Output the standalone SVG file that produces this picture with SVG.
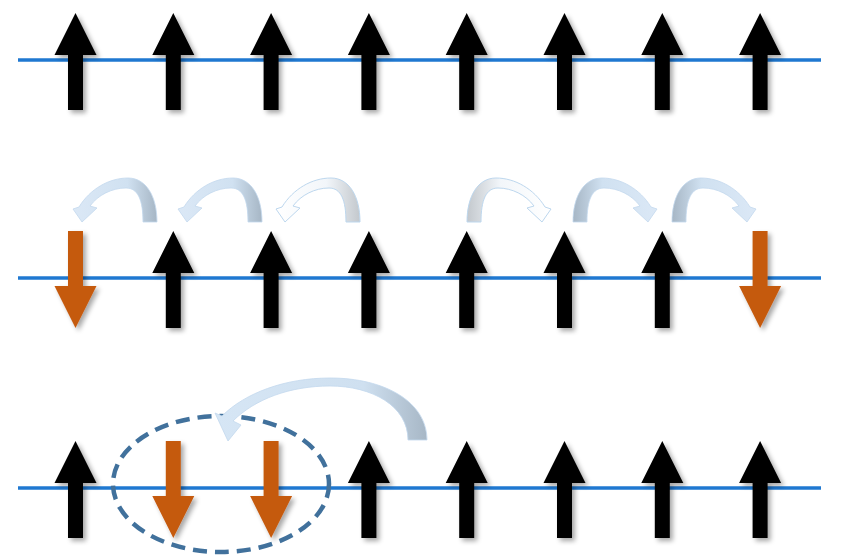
<svg xmlns="http://www.w3.org/2000/svg" xmlns:xlink="http://www.w3.org/1999/xlink" width="850" height="560" viewBox="0 0 850 560">
<style>
.chain{stroke:#1f78d1;stroke-width:3.5;fill:none}
.up{fill:#000000;filter:url(#sh)}
.dn{fill:#c55a11;filter:url(#sh)}
.hop{fill:url(#gHop);stroke:#c3d8ee;stroke-width:0.8}
.hopO{fill:url(#gHopO);stroke:#bdd7ee;stroke-width:1}
.ring{fill:none;stroke:#41719c;stroke-width:4.5;stroke-dasharray:14 8}
</style>
<defs>
<filter id="sh" x="-40%" y="-20%" width="180%" height="140%">
<feGaussianBlur in="SourceAlpha" stdDeviation="2.5"/>
<feOffset dx="3" dy="3" result="o"/>
<feComponentTransfer><feFuncA type="linear" slope="0.35"/></feComponentTransfer>
<feMerge><feMergeNode/><feMergeNode in="SourceGraphic"/></feMerge>
</filter>
<linearGradient id="gHop" x1="0" y1="0" x2="1" y2="0">
<stop offset="0" stop-color="#dbe8f6"/>
<stop offset="0.65" stop-color="#d0e1f1"/>
<stop offset="1" stop-color="#a6b6c5"/>
</linearGradient>
<linearGradient id="gHopO" x1="0" y1="0" x2="1" y2="0">
<stop offset="0" stop-color="#ffffff"/>
<stop offset="0.6" stop-color="#f2f6fa"/>
<stop offset="1" stop-color="#c3c8cd"/>
</linearGradient>
<linearGradient id="gBig" x1="0" y1="0" x2="1" y2="0">
<stop offset="0" stop-color="#d6e6f5"/>
<stop offset="0.7" stop-color="#cfe0f0"/>
<stop offset="1" stop-color="#a7b7c6"/>
</linearGradient>
<path id="upA" d="M0,0 L21,42 L7.5,42 L7.5,97 L-7.5,97 L-7.5,42 L-21,42 Z"/>
<path id="dnA" d="M-7.5,0 L7.5,0 L7.5,55 L21,55 L0,97 L-21,55 L-7.5,55 Z"/>
<path id="hopA" d="M75,0 C75,-26 64,-44 46,-44 C27,-44 8,-33 -3,-15 L-9,-13 L0,0 L15,-14 L8,-16 C16,-27 30,-34 44,-34 C56,-34 61,-22 61,0 Z"/>
</defs>

<g id="chains">
<line class="chain" x1="18" y1="60" x2="821" y2="60"/>
<line class="chain" x1="18" y1="278" x2="821" y2="278"/>
<line class="chain" x1="18" y1="488" x2="821" y2="488"/>
</g>

<g id="row1">
<g id="r1s1"><use href="#upA" class="up" x="75.5" y="13"/></g>
<g id="r1s2"><use href="#upA" class="up" x="173.3" y="13"/></g>
<g id="r1s3"><use href="#upA" class="up" x="271.1" y="13"/></g>
<g id="r1s4"><use href="#upA" class="up" x="368.9" y="13"/></g>
<g id="r1s5"><use href="#upA" class="up" x="466.7" y="13"/></g>
<g id="r1s6"><use href="#upA" class="up" x="564.5" y="13"/></g>
<g id="r1s7"><use href="#upA" class="up" x="662.3" y="13"/></g>
<g id="r1s8"><use href="#upA" class="up" x="760.1" y="13"/></g>
</g>

<g id="row2">
<g id="r2s1"><use href="#dnA" class="dn" x="75.5" y="231"/></g>
<g id="r2s2"><use href="#upA" class="up" x="173.3" y="231"/></g>
<g id="r2s3"><use href="#upA" class="up" x="271.1" y="231"/></g>
<g id="r2s4"><use href="#upA" class="up" x="368.9" y="231"/></g>
<g id="r2s5"><use href="#upA" class="up" x="466.7" y="231"/></g>
<g id="r2s6"><use href="#upA" class="up" x="564.5" y="231"/></g>
<g id="r2s7"><use href="#upA" class="up" x="662.3" y="231"/></g>
<g id="r2s8"><use href="#dnA" class="dn" x="760.1" y="231"/></g>
</g>

<g id="row3">
<g id="r3s1"><use href="#upA" class="up" x="75.5" y="441"/></g>
<g id="r3s2"><use href="#dnA" class="dn" x="173.3" y="441"/></g>
<g id="r3s3"><use href="#dnA" class="dn" x="271.1" y="441"/></g>
<g id="r3s4"><use href="#upA" class="up" x="368.9" y="441"/></g>
<g id="r3s5"><use href="#upA" class="up" x="466.7" y="441"/></g>
<g id="r3s6"><use href="#upA" class="up" x="564.5" y="441"/></g>
<g id="r3s7"><use href="#upA" class="up" x="662.3" y="441"/></g>
<g id="r3s8"><use href="#upA" class="up" x="760.1" y="441"/></g>
</g>

<g id="pair">
<ellipse class="ring" cx="221" cy="484" rx="108" ry="68"/>
</g>

<g id="connectors">
<use href="#hopA" class="hop" transform="translate(82,222)"/>
<use href="#hopA" class="hop" transform="translate(187,222)"/>
<use href="#hopA" class="hopO" transform="translate(285,222)"/>
<use href="#hopA" class="hopO" transform="translate(542,222) scale(-1,1)"/>
<use href="#hopA" class="hop" transform="translate(648,222) scale(-1,1)"/>
<use href="#hopA" class="hop" transform="translate(747,222) scale(-1,1)"/>
<path fill="url(#gBig)" stroke="#c3d8ee" stroke-width="0.8" d="M427,440 C427,402 385,378 330,378 C285,378 245,393 222,416 L215,413 L228,441 L241,425 L233,421 C255,399 290,386 330,386 C372,386 408,406 408,440 Z"/>
</g>
</svg>
